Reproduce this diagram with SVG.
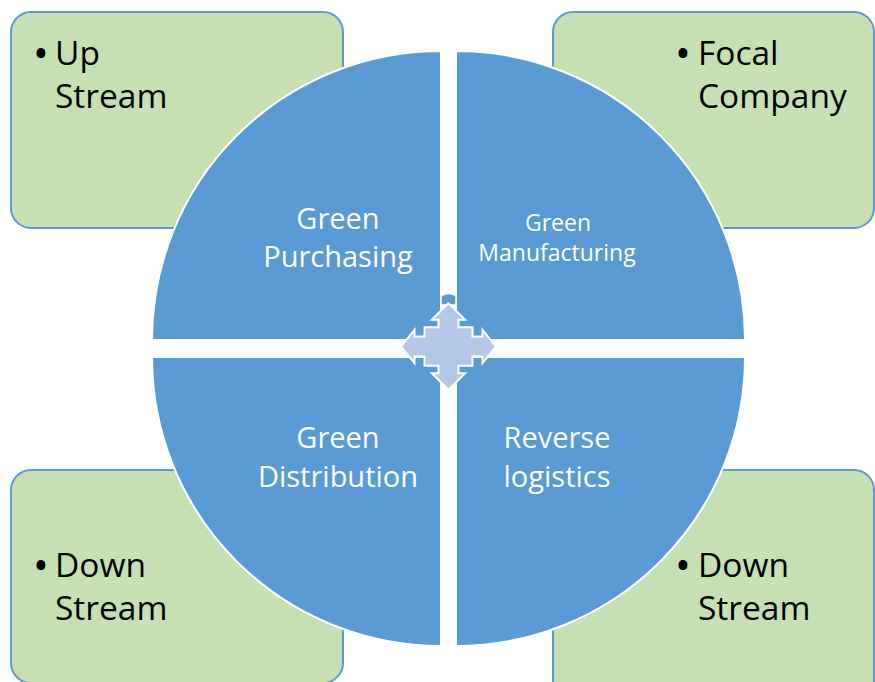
<svg xmlns="http://www.w3.org/2000/svg" width="875" height="682" viewBox="0 0 875 682">
<style>
.box{fill:#c6e0b4;stroke:#5b9bd5;stroke-width:2}
.quad{fill:#5b9bd5;stroke:#ffffff;stroke-width:2}
.bt{font-family:"Open Sans","Noto Sans",sans-serif;font-size:33.5px;fill:#000000}
.bul{font-family:"Open Sans","Noto Sans",sans-serif;font-size:42px;fill:#000000;text-anchor:middle}
.qt{font-family:"Open Sans","Noto Sans",sans-serif;font-size:29px;fill:#ffffff;text-anchor:middle}
.qs{font-family:"Open Sans","Noto Sans",sans-serif;font-size:23px;fill:#ffffff;text-anchor:middle}
</style>
<rect width="875" height="682" fill="#ffffff"/>
<g id="box-upstream">
<rect class="box" x="11" y="12" width="332" height="216" rx="20"/>
<text class="bul" x="41" y="68">•</text>
<text class="bt" x="55" y="65">Up</text>
<text class="bt" x="55" y="108">Stream</text>
</g>
<g id="box-focal">
<rect class="box" x="553" y="12" width="321" height="216" rx="20"/>
<text class="bul" x="683" y="68">•</text>
<text class="bt" x="698" y="65">Focal</text>
<text class="bt" x="698" y="108">Company</text>
</g>
<g id="box-downstream-left">
<rect class="box" x="11" y="470" width="332" height="213" rx="20"/>
<text class="bul" x="41" y="580">•</text>
<text class="bt" x="55" y="577">Down</text>
<text class="bt" x="55" y="620">Stream</text>
</g>
<g id="box-downstream-right">
<rect class="box" x="553" y="470" width="321" height="230" rx="20"/>
<text class="bul" x="683" y="580">•</text>
<text class="bt" x="698" y="577">Down</text>
<text class="bt" x="698" y="620">Stream</text>
</g>
<g id="quad-purchasing">
<path class="quad" d="M441,340 L152,340 A289,289 0 0 1 441,51 Z"/>
<text class="qt" x="338" y="229">Green</text>
<text class="qt" x="338" y="267">Purchasing</text>
</g>
<g id="quad-manufacturing">
<path class="quad" d="M456,340 L456,51 A289,289 0 0 1 745,340 Z"/>
<text class="qs" x="558" y="231">Green</text>
<text class="qs" x="557" y="261">Manufacturing</text>
</g>
<g id="quad-distribution">
<path class="quad" d="M441,357 L441,646 A289,289 0 0 1 152,357 Z"/>
<text class="qt" x="338" y="448">Green</text>
<text class="qt" x="338" y="487">Distribution</text>
</g>
<g id="quad-reverse">
<path class="quad" d="M456,357 L745,357 A289,289 0 0 1 456,646 Z"/>
<text class="qt" x="557" y="448">Reverse</text>
<text class="qt" x="557" y="487">logistics</text>
</g>
<g id="center-arrow">
<path d="M441,305 L441,296 Q448.5,291 456,296 L456,305 Z" fill="#5b9bd5" stroke="#ffffff" stroke-width="1.5"/>
<polygon transform="translate(448.5,346.5)" fill="#b4c7e7" stroke="#ffffff" stroke-width="2" points="0,-43.3 16.7,-26.7 10,-26.7 10,-19.3 24,-19.3 24,-10 34,-10 34,-16.7 47.3,0 34,16.7 34,10 24,10 24,19.3 10,19.3 10,26.7 16.7,26.7 0,43.3 -16.7,26.7 -10,26.7 -10,19.3 -24,19.3 -24,10 -34,10 -34,16.7 -47.3,0 -34,-16.7 -34,-10 -24,-10 -24,-19.3 -10,-19.3 -10,-26.7 -16.7,-26.7"/>
</g>
<g id="connectors"></g>
</svg>
